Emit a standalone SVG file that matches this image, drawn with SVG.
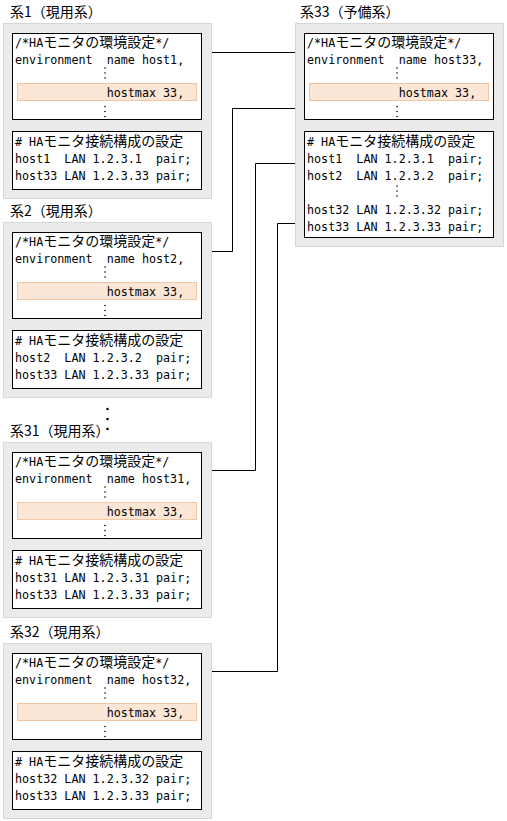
<svg xmlns="http://www.w3.org/2000/svg" xmlns:xlink="http://www.w3.org/1999/xlink" width="507" height="821" viewBox="0 0 507 821" xml:space="preserve">
<style>
text { white-space: pre; fill: #000; }
.m { font-family: "DejaVu Sans Mono", "Liberation Mono", monospace; font-size: 13px; }
.j { font-family: "Noto Sans CJK JP", sans-serif; font-size: 14px; }
.lb { font-family: "Noto Sans CJK JP", sans-serif; font-size: 14px; }
.bg { fill: #ebebeb; stroke: #d6d6d6; stroke-width: 1; }
.bx { fill: #fff; stroke: #000; stroke-width: 1; }
.hl { fill: #fce6d6; stroke: #f0c6a4; stroke-width: 1; }
.cn { fill: none; stroke: #000; stroke-width: 1; }
</style>
<defs>
<g id="vd"><circle cx="0" cy="0" r="0.8"/><circle cx="0" cy="5" r="0.8"/><circle cx="0" cy="10" r="0.8"/></g>
<g id="frame">
<rect class="bg" x="3.5" y="23.5" width="208" height="175"/>
<rect class="bx" x="12.5" y="33.5" width="189" height="86"/>
<rect class="hl" x="17.5" y="83.5" width="179" height="17"/>
<text class="m" x="15" y="47" textLength="28.2" lengthAdjust="spacingAndGlyphs">/*HA</text>
<text class="j" x="43.2" y="47">モニタの環境設定</text>
<text class="m" x="155.2" y="47" textLength="14.1" lengthAdjust="spacingAndGlyphs">*/</text>
<use xlink:href="#vd" x="105" y="68"/>
<text class="m" x="106.65" y="97" textLength="77.55" lengthAdjust="spacingAndGlyphs">hostmax 33,</text>
<use xlink:href="#vd" x="105" y="106.5"/>
<rect class="bx" x="12.5" y="131.5" width="189" height="58"/>
<text class="m" x="15" y="146" textLength="28.2" lengthAdjust="spacingAndGlyphs"># HA</text>
<text class="j" x="43.2" y="146">モニタ接続構成の設定</text>
</g>
</defs>

<g id="connectors">
<path class="cn" d="M212,52.5 H295"/>
<path class="cn" d="M212,251.5 H232.5 V108.5 H295"/>
<path class="cn" d="M212,470.5 H255.5 V163.5 H295"/>
<path class="cn" d="M212,671.5 H277.5 V223.5 H295"/>
</g>

<g id="node-sys1">
<text class="lb" x="10" y="17">系1（現用系）</text>
<use xlink:href="#frame"/>
<text class="m" x="15" y="64" textLength="169.2" lengthAdjust="spacingAndGlyphs">environment  name host1,</text>
<text class="m" x="15" y="163" textLength="176.25" lengthAdjust="spacingAndGlyphs">host1  LAN 1.2.3.1  pair;</text>
<text class="m" x="15" y="180" textLength="176.25" lengthAdjust="spacingAndGlyphs">host33 LAN 1.2.3.33 pair;</text>
</g>

<g id="node-sys2" transform="translate(0,199)">
<text class="lb" x="10" y="17">系2（現用系）</text>
<use xlink:href="#frame"/>
<text class="m" x="15" y="64" textLength="169.2" lengthAdjust="spacingAndGlyphs">environment  name host2,</text>
<text class="m" x="15" y="163" textLength="176.25" lengthAdjust="spacingAndGlyphs">host2  LAN 1.2.3.2  pair;</text>
<text class="m" x="15" y="180" textLength="176.25" lengthAdjust="spacingAndGlyphs">host33 LAN 1.2.3.33 pair;</text>
</g>

<g id="ellipsis">
<circle cx="107.5" cy="409" r="1.3"/>
<circle cx="107.5" cy="419" r="1.3"/>
<circle cx="107.5" cy="429" r="1.3"/>
</g>

<g id="node-sys31" transform="translate(0,419)">
<text class="lb" x="10" y="17">系31（現用系）</text>
<use xlink:href="#frame"/>
<text class="m" x="15" y="64" textLength="176.25" lengthAdjust="spacingAndGlyphs">environment  name host31,</text>
<text class="m" x="15" y="163" textLength="176.25" lengthAdjust="spacingAndGlyphs">host31 LAN 1.2.3.31 pair;</text>
<text class="m" x="15" y="180" textLength="176.25" lengthAdjust="spacingAndGlyphs">host33 LAN 1.2.3.33 pair;</text>
</g>

<g id="node-sys32" transform="translate(0,620)">
<text class="lb" x="10" y="17">系32（現用系）</text>
<use xlink:href="#frame"/>
<text class="m" x="15" y="64" textLength="176.25" lengthAdjust="spacingAndGlyphs">environment  name host32,</text>
<text class="m" x="15" y="163" textLength="176.25" lengthAdjust="spacingAndGlyphs">host32 LAN 1.2.3.32 pair;</text>
<text class="m" x="15" y="180" textLength="176.25" lengthAdjust="spacingAndGlyphs">host33 LAN 1.2.3.33 pair;</text>
</g>

<g id="node-sys33" transform="translate(292,0)">
<text class="lb" x="8" y="17">系33（予備系）</text>
<rect class="bg" x="3.5" y="23.5" width="208" height="223"/>
<rect class="bx" x="12.5" y="33.5" width="189" height="86"/>
<rect class="hl" x="17.5" y="83.5" width="179" height="17"/>
<text class="m" x="15" y="47" textLength="28.2" lengthAdjust="spacingAndGlyphs">/*HA</text>
<text class="j" x="43.2" y="47">モニタの環境設定</text>
<text class="m" x="155.2" y="47" textLength="14.1" lengthAdjust="spacingAndGlyphs">*/</text>
<text class="m" x="15" y="64" textLength="176.25" lengthAdjust="spacingAndGlyphs">environment  name host33,</text>
<use xlink:href="#vd" x="105" y="68"/>
<text class="m" x="106.65" y="97" textLength="77.55" lengthAdjust="spacingAndGlyphs">hostmax 33,</text>
<use xlink:href="#vd" x="105" y="106.5"/>
<rect class="bx" x="12.5" y="131.5" width="189" height="106"/>
<text class="m" x="15" y="146" textLength="28.2" lengthAdjust="spacingAndGlyphs"># HA</text>
<text class="j" x="43.2" y="146">モニタ接続構成の設定</text>
<text class="m" x="15" y="163" textLength="176.25" lengthAdjust="spacingAndGlyphs">host1  LAN 1.2.3.1  pair;</text>
<text class="m" x="15" y="180" textLength="176.25" lengthAdjust="spacingAndGlyphs">host2  LAN 1.2.3.2  pair;</text>
<use xlink:href="#vd" x="105" y="186"/>
<text class="m" x="15" y="214" textLength="176.25" lengthAdjust="spacingAndGlyphs">host32 LAN 1.2.3.32 pair;</text>
<text class="m" x="15" y="231" textLength="176.25" lengthAdjust="spacingAndGlyphs">host33 LAN 1.2.3.33 pair;</text>
</g>
</svg>
